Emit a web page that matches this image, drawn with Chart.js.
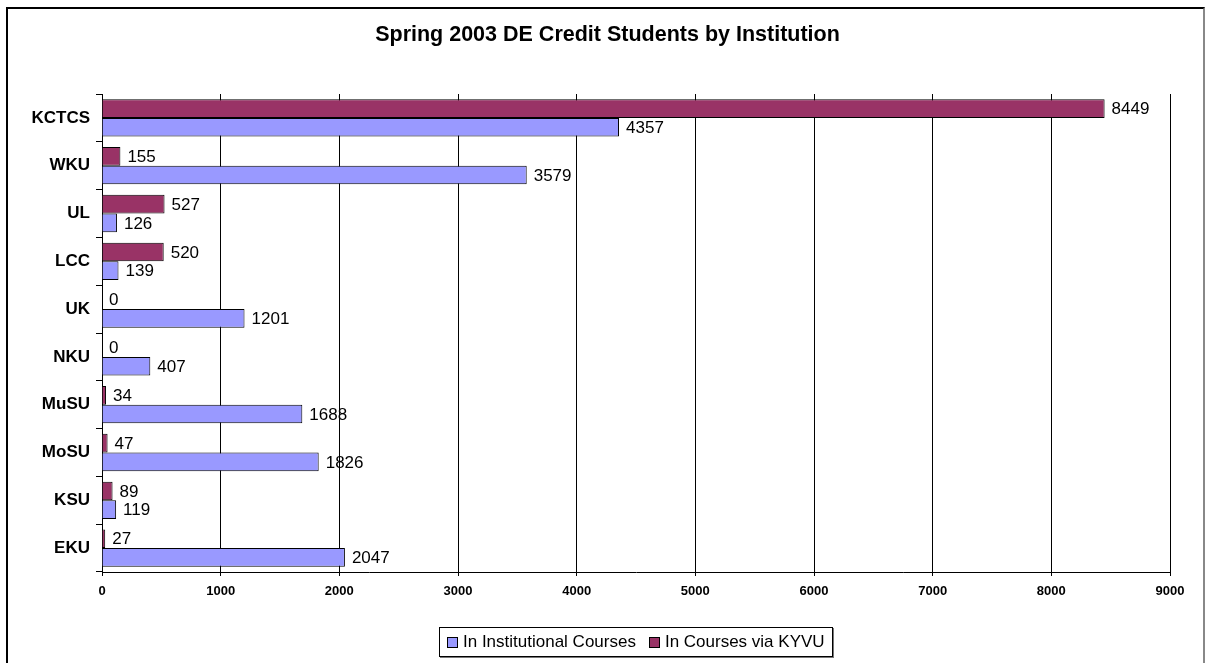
<!DOCTYPE html>
<html>
<head>
<meta charset="utf-8">
<script src="https://cdn.jsdelivr.net/npm/chart.js@4.4.1/dist/chart.umd.min.js"></script>
<style>
    html, body { margin: 0; padding: 0; background: #fff; }
    #wrap { position: relative; width: 1210px; height: 663px; overflow: hidden; font-family: "Liberation Sans", Arial, sans-serif; }
    #frame { position: absolute; left: 6px; top: 7px; width: 1199px; height: 700px; border: 2px solid #000; border-right-color: #888; box-sizing: border-box; pointer-events: none; }
    #title { position: absolute; left: 0; top: 22px; width: 1215px; text-align: center; font-size: 21.5px; line-height: 24px; font-weight: bold; color: #000; }
    #legend { position: absolute; left: 439px; top: 627px; width: 394px; height: 30px; border: 1px solid #000; box-shadow: 1px 1px 0 #777; box-sizing: border-box;
              display: flex; align-items: center; justify-content: flex-start; gap: 13px; padding-left: 7px; font-size: 17px; color: #000; background: #fff; }
    .item { display: flex; align-items: center; gap: 5px; white-space: nowrap; }
    .swatch { width: 11px; height: 11px; border: 1px solid #000; box-sizing: border-box; }
</style>
</head>
<body>
<div id="wrap">
    <canvas id="chart" width="1210" height="663"></canvas>
    <div id="frame"></div>
    <div id="title">Spring 2003 DE Credit Students by Institution</div>
    <div id="legend"></div>
</div>
<script>
// categories, top to bottom
const institutions = ['KCTCS', 'WKU', 'UL', 'LCC', 'UK', 'NKU', 'MuSU', 'MoSU', 'KSU', 'EKU'];
const viaKyvu = [8449, 155, 527, 520, 0, 0, 34, 47, 89, 27];
const institutional = [4357, 3579, 126, 139, 1201, 407, 1688, 1826, 119, 2047];
const xTicks = [0, 1000, 2000, 3000, 4000, 5000, 6000, 7000, 8000, 9000];

const FONT = '"Liberation Sans", Arial, sans-serif';

// value labels at the end of each bar
const barLabels = {
    id: 'barLabels',
    afterDatasetsDraw(chart) {
        const ctx = chart.ctx;
        ctx.save();
        ctx.font = '17px ' + FONT;
        ctx.fillStyle = '#000';
        ctx.textBaseline = 'middle';
        ctx.textAlign = 'left';
        chart.data.datasets.forEach((ds, i) => {
            chart.getDatasetMeta(i).data.forEach((bar, j) => {
                ctx.fillText(String(ds.data[j]), bar.x + 7, bar.y + 1);
            });
        });
        ctx.restore();
    }
};

const datasets = [
    { label: 'In Courses via KYVU', data: viaKyvu, backgroundColor: '#993366' },
    { label: 'In Institutional Courses', data: institutional, backgroundColor: '#9999FF' }
];

new Chart(document.getElementById('chart'), {
    type: 'bar',
    data: {
        labels: institutions,
        datasets: datasets.map(d => Object.assign({
            borderColor: '#000',
            borderWidth: 1,
            categoryPercentage: 0.78,
            barPercentage: 1.0
        }, d))
    },
    options: {
        indexAxis: 'y',
        responsive: false,
        animation: false,
        layout: { padding: { left: 0, right: 40, top: 94, bottom: 61 } },
        plugins: {
            legend: { display: false },
            tooltip: { enabled: false },
            title: { display: false }
        },
        scales: {
            x: {
                min: 0,
                max: 9000,
                afterBuildTicks: (scale) => { scale.ticks = xTicks.map(v => ({ value: v })); },
                afterFit: (scale) => { scale.height = 30; },
                ticks: {
                    color: '#000', padding: 8,
                    font: { family: FONT, size: 13, weight: 'bold' },
                    callback: (v) => String(v)
                },
                grid: { color: '#000', lineWidth: 1, tickLength: 4 },
                border: { color: '#000', width: 1 }
            },
            y: {
                afterFit: (scale) => { scale.width = 102; },
                ticks: { color: '#000', padding: 6, font: { family: FONT, size: 17, weight: 'bold' } },
                grid: { drawOnChartArea: false, color: '#000', tickLength: 6 },
                border: { color: '#000', width: 1 }
            }
        }
    },
    plugins: [barLabels]
});

// legend in Excel order: institutional first
const legend = document.getElementById('legend');
[datasets[1], datasets[0]].forEach(d => {
    const item = document.createElement('div');
    item.className = 'item';
    item.innerHTML = '<span class="swatch" style="background:' + d.backgroundColor + '"></span><span>' + d.label + '</span>';
    legend.appendChild(item);
});
</script>
</body>
</html>
